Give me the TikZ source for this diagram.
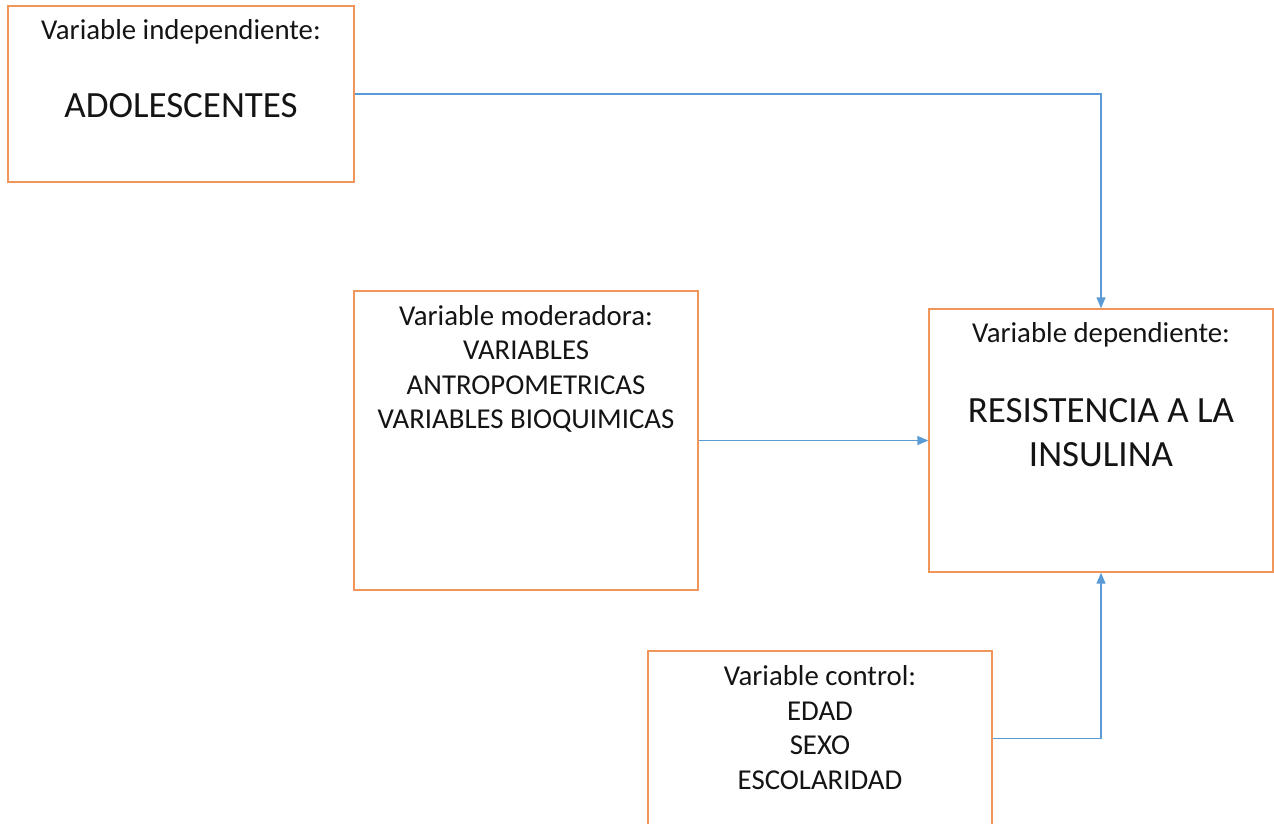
\documentclass[tikz,border=0pt]{standalone}
\usepackage{fontspec}
\setmainfont{Carlito}
\usetikzlibrary{arrows.meta}
\definecolor{boxorange}{RGB}{240,150,90}
\definecolor{lineblue}{RGB}{91,155,213}
\definecolor{txt}{RGB}{20,20,20}
\tikzset{
  vbox/.style={draw=boxorange, line width=1.4pt, rectangle, inner sep=0pt},
  small/.style={font=\fontsize{28.8}{34.5}\selectfont, text=txt, align=center, inner sep=0pt},
  big/.style={font=\fontsize{37}{44}\selectfont, text=txt, align=center, inner sep=0pt},
  conn/.style={draw=lineblue, line width=1.4pt, -{Triangle[length=11pt,width=9pt]}},
}
\begin{document}
\begin{tikzpicture}[x=1pt,y=-1pt]
\useasboundingbox (0,0) rectangle (1274,823);
\clip (0,0) rectangle (1274,823);
% boxes
\node[vbox, minimum width=346pt, minimum height=176pt] (indep) at (181,94) {};
\node[vbox, minimum width=344pt, minimum height=299pt] (mod) at (526,440.5) {};
\node[vbox, minimum width=344pt, minimum height=263pt] (dep) at (1101,440.5) {};
\node[vbox, minimum width=344pt, minimum height=175pt] (ctrl) at (820,738.5) {};
% texts
\node[small] (t1) at (181,32) {Variable independiente:};
\node[big] (t2) at (181,106) {ADOLESCENTES};
\node[small] (t3) at (526,369) {Variable moderadora:\\VARIABLES\\ANTROPOMETRICAS\\VARIABLES BIOQUIMICAS};
\node[small] (t4) at (1101,335) {Variable dependiente:};
\node[big] (t5) at (1101,433) {RESISTENCIA A LA\\INSULINA};
\node[small] (t6) at (820,727.5) {Variable control:\\EDAD\\SEXO\\ESCOLARIDAD};
% connectors
\draw[conn] (indep.east) -| (dep.north);
\draw[conn] (mod.east) -- (dep.west);
\draw[conn] (ctrl.east) -| (dep.south);
\end{tikzpicture}
\end{document}
